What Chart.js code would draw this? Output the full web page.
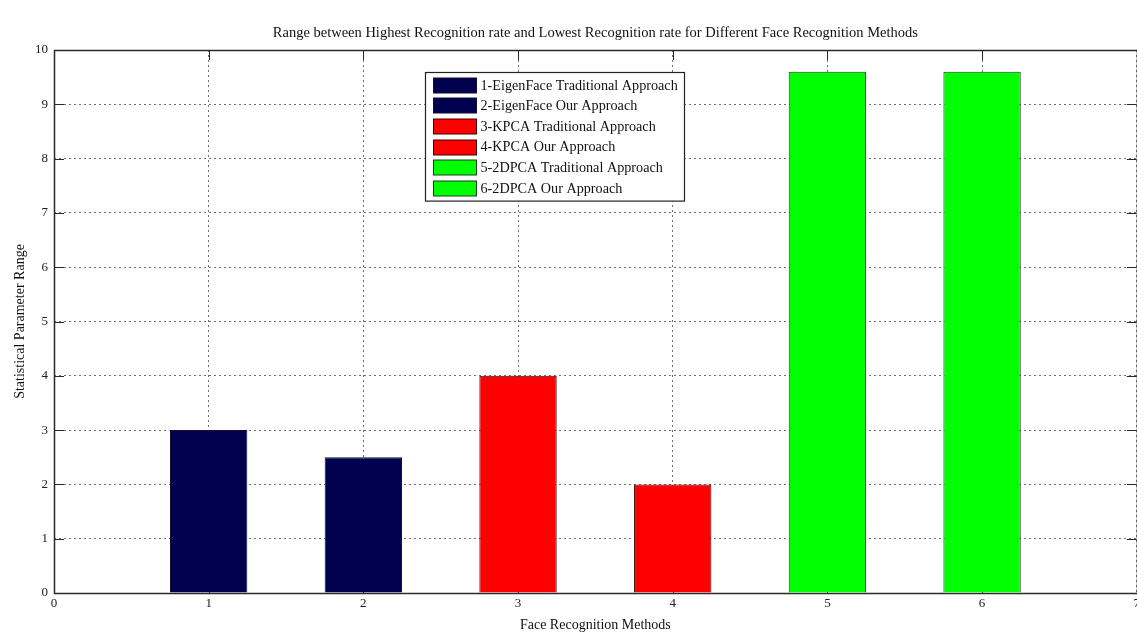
<!DOCTYPE html>
<html>
<head>
<meta charset="utf-8">
<script src="https://cdn.jsdelivr.net/npm/chart.js@4.4.1/dist/chart.umd.min.js"></script>
<style>
  html, body { margin: 0; padding: 0; background: #ffffff; overflow: hidden; }
  #wrap { position: absolute; left: 0; top: 0; width: 1143px; height: 635px; }
</style>
</head>
<body>
<div id="wrap"><canvas id="c"></canvas></div>
<script>
// Method names, their positions on the x axis and the range of recognition rates
const methodLabels = [
  '1-EigenFace Traditional Approach',
  '2-EigenFace Our Approach',
  '3-KPCA Traditional Approach',
  '4-KPCA Our Approach',
  '5-2DPCA Traditional Approach',
  '6-2DPCA Our Approach'
];
const methodPositions = [1, 2, 3, 4, 5, 6];
const rangeValues = [3, 2.5, 4, 2, 9.6, 9.6];
const barColors = ['#00004f', '#00004f', '#ff0000', '#ff0000', '#00ff00', '#00ff00'];
const barEdges = ['#101030', '#101030', '#3a0000', '#3a0000', '#1c3a1c', '#1c3a1c'];
const xTickValues = [0, 1, 2, 3, 4, 5, 6, 7];
const yTickValues = [0, 1, 2, 3, 4, 5, 6, 7, 8, 9, 10];

const SERIF = "'Liberation Serif', 'Times New Roman', serif";
Chart.defaults.font.family = SERIF;
Chart.defaults.color = '#1a1a1a';

// Axes box with inward tick marks on all four sides
const axesFrame = {
  id: 'axesFrame',
  beforeDatasetsDraw(chart) {
    const { ctx, chartArea: a, scales } = chart;
    const len = 10;
    ctx.save();
    ctx.strokeStyle = '#2a2a2a';
    ctx.lineWidth = 1;
    ctx.beginPath();
    xTickValues.forEach(v => {
      const px = Math.round(scales.x.getPixelForValue(v)) + 0.5;
      ctx.moveTo(px, a.top); ctx.lineTo(px, a.top + len);
      ctx.moveTo(px, a.bottom); ctx.lineTo(px, a.bottom - len);
    });
    yTickValues.forEach(v => {
      const py = Math.round(scales.y.getPixelForValue(v)) + 0.5;
      ctx.moveTo(a.left, py); ctx.lineTo(a.left + len, py);
      ctx.moveTo(a.right, py); ctx.lineTo(a.right - len, py);
    });
    ctx.stroke();
    ctx.lineWidth = 1.5;
    ctx.strokeRect(Math.round(a.left) + 0.5, Math.round(a.top) + 0.5,
                   Math.round(a.right - a.left), Math.round(a.bottom - a.top));
    ctx.restore();
  }
};

// Boxed legend drawn inside the plot area
const insetLegend = {
  id: 'insetLegend',
  afterDatasetsDraw(chart, args, o) {
    const { ctx, chartArea: a } = chart;
    const x0 = Math.round(a.left + o.offsetX) + 0.5;
    const y0 = Math.round(a.top + o.offsetY) + 0.5;
    const h = o.rowHeight * methodLabels.length + o.pad * 2;
    ctx.save();
    ctx.fillStyle = '#ffffff';
    ctx.fillRect(x0, y0, o.width, h);
    ctx.strokeStyle = '#222';
    ctx.lineWidth = 1.2;
    ctx.strokeRect(x0, y0, o.width, h);
    ctx.font = '14.2px ' + SERIF;
    ctx.textBaseline = 'middle';
    methodLabels.forEach((label, i) => {
      const cy = y0 + o.pad + o.rowHeight * i + o.rowHeight / 2;
      ctx.fillStyle = barColors[i];
      ctx.fillRect(x0 + 8, Math.round(cy - 7.5), 43, 15);
      ctx.strokeStyle = barEdges[i];
      ctx.lineWidth = 1;
      ctx.strokeRect(x0 + 8, Math.round(cy - 7.5), 43, 15);
      ctx.fillStyle = '#111';
      ctx.fillText(label, x0 + 55, cy + 0.5);
    });
    ctx.restore();
  }
};

new Chart(document.getElementById('c'), {
  type: 'bar',
  data: {
    datasets: [{
      data: methodPositions.map((x, i) => ({ x: x, y: rangeValues[i] })),
      backgroundColor: barColors,
      borderColor: barEdges,
      borderWidth: 1,
      barPercentage: 0.5,
      categoryPercentage: 1.0
    }]
  },
  options: {
    responsive: true,
    maintainAspectRatio: false,
    animation: false,
    layout: { padding: { left: 0, right: 0, top: 0, bottom: 0 } },
    plugins: {
      legend: { display: false },
      tooltip: { enabled: false },
      title: {
        display: true,
        fullSize: false,
        text: 'Range between Highest Recognition rate and Lowest Recognition rate for Different Face Recognition Methods',
        font: { size: 14.5, weight: 'normal', family: SERIF, lineHeight: 1.2 },
        color: '#111',
        padding: { top: 24, bottom: 8.6 }
      },
      insetLegend: { offsetX: 371, offsetY: 22, width: 259, rowHeight: 20.6, pad: 2.5 }
    },
    scales: {
      x: {
        type: 'linear',
        min: 0, max: 7,
        offset: false,
        afterFit(s) { s.height = 42; },
        afterBuildTicks(s) { s.ticks = xTickValues.map(v => ({ value: v })); },
        ticks: { stepSize: 1, padding: 3, font: { size: 13 }, color: '#222' },
        grid: { offset: false, drawTicks: false, color: '#707070', lineWidth: 1, borderDash: [2, 3] },
        border: { display: false, dash: [2, 3] },
        title: {
          display: true, text: 'Face Recognition Methods',
          font: { size: 14, family: SERIF }, color: '#111',
          padding: { top: 0, bottom: 1 }
        }
      },
      y: {
        min: 0, max: 10,
        afterFit(s) { s.width = 54; },
        afterBuildTicks(s) { s.ticks = yTickValues.map(v => ({ value: v })); },
        ticks: { stepSize: 1, padding: 6, font: { size: 13 }, color: '#222' },
        grid: { drawTicks: false, color: '#707070', lineWidth: 1, borderDash: [2, 3] },
        border: { display: false, dash: [2, 3] },
        title: {
          display: true, text: 'Statistical Parameter Range',
          font: { size: 14, family: SERIF }, color: '#111',
          padding: { top: 12, bottom: 0 }
        }
      }
    }
  },
  plugins: [axesFrame, insetLegend]
});
</script>
</body>
</html>
